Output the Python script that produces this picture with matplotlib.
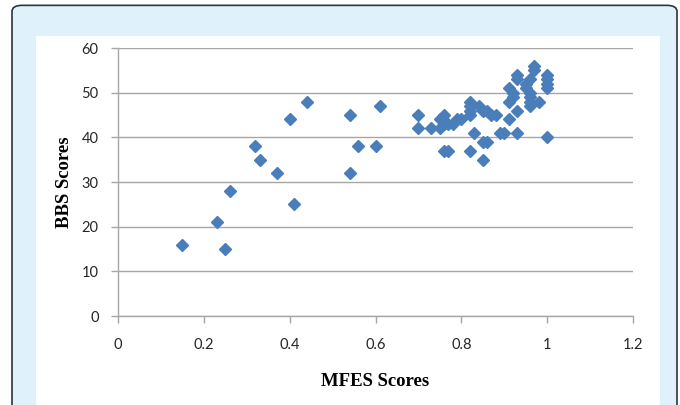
import numpy as np
import matplotlib.pyplot as plt
from matplotlib.patches import FancyBboxPatch, Rectangle

# MFES vs BBS scores
mfes = [0.15, 0.23, 0.25, 0.26, 0.32, 0.33, 0.37, 0.40, 0.41, 0.44,
        0.54, 0.54, 0.56, 0.60, 0.61,
        0.70, 0.70, 0.73, 0.75, 0.76, 0.75, 0.76, 0.77, 0.78, 0.79, 0.80,
        0.76, 0.77, 0.82, 0.82, 0.82, 0.82, 0.84, 0.85, 0.86, 0.87, 0.88,
        0.83, 0.85, 0.86, 0.82, 0.85, 0.89, 0.90, 0.91, 0.91, 0.91, 0.92,
        0.92, 0.93, 0.93, 0.93, 0.93, 0.95, 0.95, 0.96, 0.96, 0.96, 0.96,
        0.96, 0.97, 0.97, 0.98, 1.00, 1.00, 1.00, 1.00, 1.00]
bbs = [16, 21, 15, 28, 38, 35, 32, 44, 25, 48,
       45, 32, 38, 38, 47,
       45, 42, 42, 44, 45, 42, 43, 43, 43, 44, 44,
       37, 37, 48, 47, 46, 45, 47, 46, 46, 45, 45,
       41, 39, 39, 37, 35, 41, 41, 44, 48, 51, 50,
       49, 46, 41, 54, 53, 52, 51, 53, 50, 49, 48,
       47, 55, 56, 48, 54, 53, 52, 51, 40]

x_ticks = [0, 0.2, 0.4, 0.6, 0.8, 1, 1.2]
x_labels = ['0', '0.2', '0.4', '0.6', '0.8', '1', '1.2']
y_ticks = [0, 10, 20, 30, 40, 50, 60]

W, H = 680, 405
fig = plt.figure(figsize=(6.8, 4.05), dpi=100)
fig.patch.set_facecolor('white')

# outer frame: light blue with dark rounded border, white panel inside
frame = FancyBboxPatch((12 / W, -0.05), 665 / W, 1.0368,
                       boxstyle='round,pad=0,rounding_size=0.015',
                       transform=fig.transFigure, facecolor='#dff1fb',
                       edgecolor='#333333', linewidth=1.2, zorder=-10)
fig.patches.append(frame)
panel = Rectangle((36 / W, 0), (660 - 36) / W, (405 - 36) / H,
                  transform=fig.transFigure, facecolor='white',
                  edgecolor='none', zorder=-9)
fig.patches.append(panel)

ax = fig.add_axes([118 / W, 1 - 316 / H, (633 - 118) / W, (316 - 48) / H])
ax.set_facecolor('white')

ax.plot(mfes, bbs, linestyle='none', marker='D', markersize=6.2,
        color='#4a7ebb', markeredgecolor='#4a7ebb', zorder=3, clip_on=False)

ax.set_xlim(0, 1.2)
ax.set_ylim(0, 60)
ax.set_xticks(x_ticks)
ax.set_xticklabels(x_labels)
ax.set_yticks(y_ticks)
ax.yaxis.grid(True, color='#a6a6a6', linewidth=1)
ax.set_axisbelow(True)

for side in ['top', 'right']:
    ax.spines[side].set_visible(False)
for side in ['left', 'bottom']:
    ax.spines[side].set_color('#a6a6a6')
    ax.spines[side].set_linewidth(1)

ax.tick_params(axis='both', direction='out', length=5, width=1, color='#a6a6a6',
               labelsize=10.5, labelcolor='#262626')
ax.tick_params(axis='x', pad=11)
ax.tick_params(axis='y', pad=9)
for lbl in ax.get_xticklabels() + ax.get_yticklabels():
    lbl.set_family('Lato')

ax.set_xlabel('MFES Scores', family='Liberation Serif', fontweight='bold',
              fontsize=13.5, labelpad=15)
ax.set_ylabel('BBS Scores', family='Liberation Serif', fontweight='bold',
              fontsize=13.5, labelpad=6)

fig.savefig('out.png', dpi=100)
